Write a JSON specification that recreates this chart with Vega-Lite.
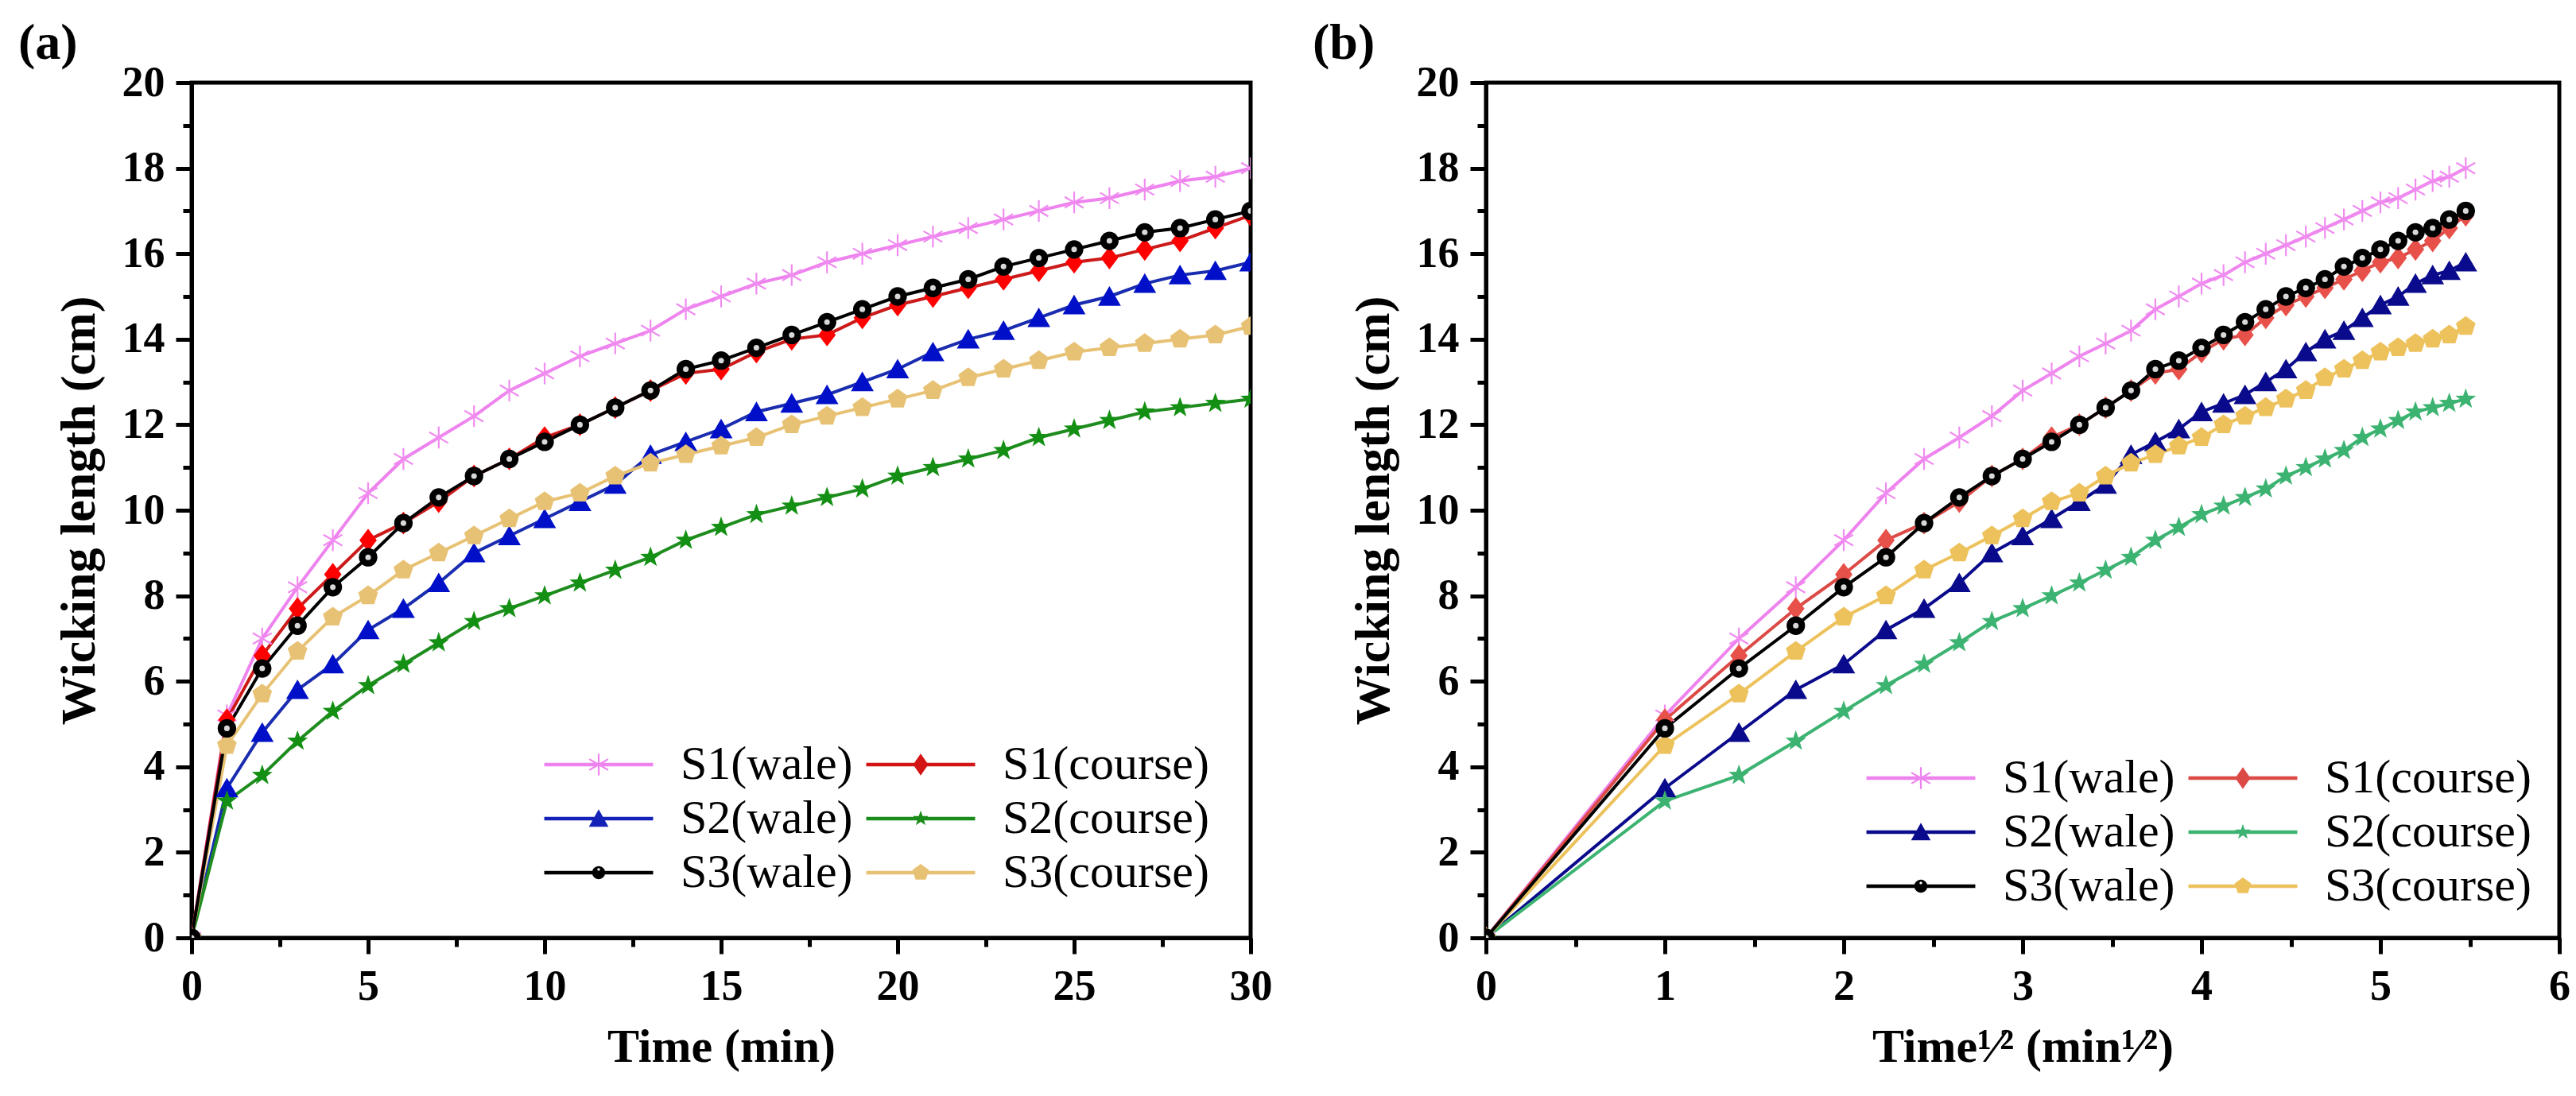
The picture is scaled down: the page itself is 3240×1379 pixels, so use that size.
{
  "$schema": "https://vega.github.io/schema/vega-lite/v6.json",
  "padding": {"left": 20, "top": 20, "right": 5, "bottom": 5},
  "spacing": 45,
  "datasets": {
    "d": [
      {"s":"S1(wale)","t":0,"r":0,"v":0},{"s":"S1(wale)","t":1,"r":1,"v":5.2},{"s":"S1(wale)","t":2,"r":1.414,"v":7.0},{"s":"S1(wale)","t":3,"r":1.732,"v":8.2},{"s":"S1(wale)","t":4,"r":2,"v":9.3},{"s":"S1(wale)","t":5,"r":2.236,"v":10.4},{"s":"S1(wale)","t":6,"r":2.449,"v":11.2},{"s":"S1(wale)","t":7,"r":2.646,"v":11.7},{"s":"S1(wale)","t":8,"r":2.828,"v":12.2},{"s":"S1(wale)","t":9,"r":3,"v":12.8},{"s":"S1(wale)","t":10,"r":3.162,"v":13.2},{"s":"S1(wale)","t":11,"r":3.317,"v":13.6},{"s":"S1(wale)","t":12,"r":3.464,"v":13.9},{"s":"S1(wale)","t":13,"r":3.606,"v":14.2},{"s":"S1(wale)","t":14,"r":3.742,"v":14.7},{"s":"S1(wale)","t":15,"r":3.873,"v":15.0},{"s":"S1(wale)","t":16,"r":4,"v":15.3},{"s":"S1(wale)","t":17,"r":4.123,"v":15.5},{"s":"S1(wale)","t":18,"r":4.243,"v":15.8},{"s":"S1(wale)","t":19,"r":4.359,"v":16.0},{"s":"S1(wale)","t":20,"r":4.472,"v":16.2},{"s":"S1(wale)","t":21,"r":4.583,"v":16.4},{"s":"S1(wale)","t":22,"r":4.69,"v":16.6},{"s":"S1(wale)","t":23,"r":4.796,"v":16.8},{"s":"S1(wale)","t":24,"r":4.899,"v":17.0},{"s":"S1(wale)","t":25,"r":5,"v":17.2},{"s":"S1(wale)","t":26,"r":5.099,"v":17.3},{"s":"S1(wale)","t":27,"r":5.196,"v":17.5},{"s":"S1(wale)","t":28,"r":5.292,"v":17.7},{"s":"S1(wale)","t":29,"r":5.385,"v":17.8},{"s":"S1(wale)","t":30,"r":5.477,"v":18.0},
      {"s":"S1(course)","t":0,"r":0,"v":0},{"s":"S1(course)","t":1,"r":1,"v":5.1},{"s":"S1(course)","t":2,"r":1.414,"v":6.6},{"s":"S1(course)","t":3,"r":1.732,"v":7.7},{"s":"S1(course)","t":4,"r":2,"v":8.5},{"s":"S1(course)","t":5,"r":2.236,"v":9.3},{"s":"S1(course)","t":6,"r":2.449,"v":9.7},{"s":"S1(course)","t":7,"r":2.646,"v":10.2},{"s":"S1(course)","t":8,"r":2.828,"v":10.8},{"s":"S1(course)","t":9,"r":3,"v":11.2},{"s":"S1(course)","t":10,"r":3.162,"v":11.7},{"s":"S1(course)","t":11,"r":3.317,"v":12.0},{"s":"S1(course)","t":12,"r":3.464,"v":12.4},{"s":"S1(course)","t":13,"r":3.606,"v":12.8},{"s":"S1(course)","t":14,"r":3.742,"v":13.2},{"s":"S1(course)","t":15,"r":3.873,"v":13.3},{"s":"S1(course)","t":16,"r":4,"v":13.7},{"s":"S1(course)","t":17,"r":4.123,"v":14.0},{"s":"S1(course)","t":18,"r":4.243,"v":14.1},{"s":"S1(course)","t":19,"r":4.359,"v":14.5},{"s":"S1(course)","t":20,"r":4.472,"v":14.8},{"s":"S1(course)","t":21,"r":4.583,"v":15.0},{"s":"S1(course)","t":22,"r":4.69,"v":15.2},{"s":"S1(course)","t":23,"r":4.796,"v":15.4},{"s":"S1(course)","t":24,"r":4.899,"v":15.6},{"s":"S1(course)","t":25,"r":5,"v":15.8},{"s":"S1(course)","t":26,"r":5.099,"v":15.9},{"s":"S1(course)","t":27,"r":5.196,"v":16.1},{"s":"S1(course)","t":28,"r":5.292,"v":16.3},{"s":"S1(course)","t":29,"r":5.385,"v":16.6},{"s":"S1(course)","t":30,"r":5.477,"v":16.9},
      {"s":"S2(wale)","t":0,"r":0,"v":0},{"s":"S2(wale)","t":1,"r":1,"v":3.5},{"s":"S2(wale)","t":2,"r":1.414,"v":4.8},{"s":"S2(wale)","t":3,"r":1.732,"v":5.8},{"s":"S2(wale)","t":4,"r":2,"v":6.4},{"s":"S2(wale)","t":5,"r":2.236,"v":7.2},{"s":"S2(wale)","t":6,"r":2.449,"v":7.7},{"s":"S2(wale)","t":7,"r":2.646,"v":8.3},{"s":"S2(wale)","t":8,"r":2.828,"v":9.0},{"s":"S2(wale)","t":9,"r":3,"v":9.4},{"s":"S2(wale)","t":10,"r":3.162,"v":9.8},{"s":"S2(wale)","t":11,"r":3.317,"v":10.2},{"s":"S2(wale)","t":12,"r":3.464,"v":10.6},{"s":"S2(wale)","t":13,"r":3.606,"v":11.3},{"s":"S2(wale)","t":14,"r":3.742,"v":11.6},{"s":"S2(wale)","t":15,"r":3.873,"v":11.9},{"s":"S2(wale)","t":16,"r":4,"v":12.3},{"s":"S2(wale)","t":17,"r":4.123,"v":12.5},{"s":"S2(wale)","t":18,"r":4.243,"v":12.7},{"s":"S2(wale)","t":19,"r":4.359,"v":13.0},{"s":"S2(wale)","t":20,"r":4.472,"v":13.3},{"s":"S2(wale)","t":21,"r":4.583,"v":13.7},{"s":"S2(wale)","t":22,"r":4.69,"v":14.0},{"s":"S2(wale)","t":23,"r":4.796,"v":14.2},{"s":"S2(wale)","t":24,"r":4.899,"v":14.5},{"s":"S2(wale)","t":25,"r":5,"v":14.8},{"s":"S2(wale)","t":26,"r":5.099,"v":15.0},{"s":"S2(wale)","t":27,"r":5.196,"v":15.3},{"s":"S2(wale)","t":28,"r":5.292,"v":15.5},{"s":"S2(wale)","t":29,"r":5.385,"v":15.6},{"s":"S2(wale)","t":30,"r":5.477,"v":15.8},
      {"s":"S2(course)","t":0,"r":0,"v":0},{"s":"S2(course)","t":1,"r":1,"v":3.2},{"s":"S2(course)","t":2,"r":1.414,"v":3.8},{"s":"S2(course)","t":3,"r":1.732,"v":4.6},{"s":"S2(course)","t":4,"r":2,"v":5.3},{"s":"S2(course)","t":5,"r":2.236,"v":5.9},{"s":"S2(course)","t":6,"r":2.449,"v":6.4},{"s":"S2(course)","t":7,"r":2.646,"v":6.9},{"s":"S2(course)","t":8,"r":2.828,"v":7.4},{"s":"S2(course)","t":9,"r":3,"v":7.7},{"s":"S2(course)","t":10,"r":3.162,"v":8.0},{"s":"S2(course)","t":11,"r":3.317,"v":8.3},{"s":"S2(course)","t":12,"r":3.464,"v":8.6},{"s":"S2(course)","t":13,"r":3.606,"v":8.9},{"s":"S2(course)","t":14,"r":3.742,"v":9.3},{"s":"S2(course)","t":15,"r":3.873,"v":9.6},{"s":"S2(course)","t":16,"r":4,"v":9.9},{"s":"S2(course)","t":17,"r":4.123,"v":10.1},{"s":"S2(course)","t":18,"r":4.243,"v":10.3},{"s":"S2(course)","t":19,"r":4.359,"v":10.5},{"s":"S2(course)","t":20,"r":4.472,"v":10.8},{"s":"S2(course)","t":21,"r":4.583,"v":11.0},{"s":"S2(course)","t":22,"r":4.69,"v":11.2},{"s":"S2(course)","t":23,"r":4.796,"v":11.4},{"s":"S2(course)","t":24,"r":4.899,"v":11.7},{"s":"S2(course)","t":25,"r":5,"v":11.9},{"s":"S2(course)","t":26,"r":5.099,"v":12.1},{"s":"S2(course)","t":27,"r":5.196,"v":12.3},{"s":"S2(course)","t":28,"r":5.292,"v":12.4},{"s":"S2(course)","t":29,"r":5.385,"v":12.5},{"s":"S2(course)","t":30,"r":5.477,"v":12.6},
      {"s":"S3(course)","t":0,"r":0,"v":0},{"s":"S3(course)","t":1,"r":1,"v":4.5},{"s":"S3(course)","t":2,"r":1.414,"v":5.7},{"s":"S3(course)","t":3,"r":1.732,"v":6.7},{"s":"S3(course)","t":4,"r":2,"v":7.5},{"s":"S3(course)","t":5,"r":2.236,"v":8.0},{"s":"S3(course)","t":6,"r":2.449,"v":8.6},{"s":"S3(course)","t":7,"r":2.646,"v":9.0},{"s":"S3(course)","t":8,"r":2.828,"v":9.4},{"s":"S3(course)","t":9,"r":3,"v":9.8},{"s":"S3(course)","t":10,"r":3.162,"v":10.2},{"s":"S3(course)","t":11,"r":3.317,"v":10.4},{"s":"S3(course)","t":12,"r":3.464,"v":10.8},{"s":"S3(course)","t":13,"r":3.606,"v":11.1},{"s":"S3(course)","t":14,"r":3.742,"v":11.3},{"s":"S3(course)","t":15,"r":3.873,"v":11.5},{"s":"S3(course)","t":16,"r":4,"v":11.7},{"s":"S3(course)","t":17,"r":4.123,"v":12.0},{"s":"S3(course)","t":18,"r":4.243,"v":12.2},{"s":"S3(course)","t":19,"r":4.359,"v":12.4},{"s":"S3(course)","t":20,"r":4.472,"v":12.6},{"s":"S3(course)","t":21,"r":4.583,"v":12.8},{"s":"S3(course)","t":22,"r":4.69,"v":13.1},{"s":"S3(course)","t":23,"r":4.796,"v":13.3},{"s":"S3(course)","t":24,"r":4.899,"v":13.5},{"s":"S3(course)","t":25,"r":5,"v":13.7},{"s":"S3(course)","t":26,"r":5.099,"v":13.8},{"s":"S3(course)","t":27,"r":5.196,"v":13.9},{"s":"S3(course)","t":28,"r":5.292,"v":14.0},{"s":"S3(course)","t":29,"r":5.385,"v":14.1},{"s":"S3(course)","t":30,"r":5.477,"v":14.3},
      {"s":"S3(wale)","t":0,"r":0,"v":0},{"s":"S3(wale)","t":1,"r":1,"v":4.9},{"s":"S3(wale)","t":2,"r":1.414,"v":6.3},{"s":"S3(wale)","t":3,"r":1.732,"v":7.3},{"s":"S3(wale)","t":4,"r":2,"v":8.2},{"s":"S3(wale)","t":5,"r":2.236,"v":8.9},{"s":"S3(wale)","t":6,"r":2.449,"v":9.7},{"s":"S3(wale)","t":7,"r":2.646,"v":10.3},{"s":"S3(wale)","t":8,"r":2.828,"v":10.8},{"s":"S3(wale)","t":9,"r":3,"v":11.2},{"s":"S3(wale)","t":10,"r":3.162,"v":11.6},{"s":"S3(wale)","t":11,"r":3.317,"v":12.0},{"s":"S3(wale)","t":12,"r":3.464,"v":12.4},{"s":"S3(wale)","t":13,"r":3.606,"v":12.8},{"s":"S3(wale)","t":14,"r":3.742,"v":13.3},{"s":"S3(wale)","t":15,"r":3.873,"v":13.5},{"s":"S3(wale)","t":16,"r":4,"v":13.8},{"s":"S3(wale)","t":17,"r":4.123,"v":14.1},{"s":"S3(wale)","t":18,"r":4.243,"v":14.4},{"s":"S3(wale)","t":19,"r":4.359,"v":14.7},{"s":"S3(wale)","t":20,"r":4.472,"v":15.0},{"s":"S3(wale)","t":21,"r":4.583,"v":15.2},{"s":"S3(wale)","t":22,"r":4.69,"v":15.4},{"s":"S3(wale)","t":23,"r":4.796,"v":15.7},{"s":"S3(wale)","t":24,"r":4.899,"v":15.9},{"s":"S3(wale)","t":25,"r":5,"v":16.1},{"s":"S3(wale)","t":26,"r":5.099,"v":16.3},{"s":"S3(wale)","t":27,"r":5.196,"v":16.5},{"s":"S3(wale)","t":28,"r":5.292,"v":16.6},{"s":"S3(wale)","t":29,"r":5.385,"v":16.8},{"s":"S3(wale)","t":30,"r":5.477,"v":17.0}
    ]
  },
  "hconcat": [
    {
      "width": 1332,
      "height": 1076,
      "title": {"text": "(a)", "anchor": "start", "frame": "bounds", "dx": -45},
      "data": {"name": "d"},
      "layer": [
        {
          "mark": {"type": "line", "strokeWidth": 4, "clip": true},
          "encoding": {
            "x": {"field": "t", "type": "quantitative", "scale": {"domain": [0, 30], "nice": false, "zero": false},
                  "axis": {"title": "Time (min)", "values": [0, 5, 10, 15, 20, 25, 30]}},
            "y": {"field": "v", "type": "quantitative", "scale": {"domain": [0, 20], "nice": false},
                  "axis": {"title": "Wicking length (cm)", "values": [0, 2, 4, 6, 8, 10, 12, 14, 16, 18, 20]}},
            "color": {"field": "s", "type": "nominal", "legend": null,
                      "scale": {"domain": ["S1(wale)", "S1(course)", "S2(wale)", "S2(course)", "S3(wale)", "S3(course)"],
                                "range": ["#EE82EE", "#CC1A1A", "#1A2DB0", "#1E8C1E", "#000000", "#E8C274"]}}
          }
        },
        {
          "mark": {"type": "point", "filled": true, "size": 750, "opacity": 1, "clip": true},
          "encoding": {
            "x": {"field": "t", "type": "quantitative", "scale": {"domain": [0, 30], "nice": false, "zero": false},
                  "axis": {"orient": "bottom", "values": [2.5, 7.5, 12.5, 17.5, 22.5, 27.5], "labels": false, "domain": false, "tickSize": 11, "title": null}},
            "y": {"field": "v", "type": "quantitative", "scale": {"domain": [0, 20], "nice": false},
                  "axis": {"orient": "left", "values": [1, 3, 5, 7, 9, 11, 13, 15, 17, 19], "labels": false, "domain": false, "tickSize": 11, "title": null}},
            "color": {"field": "s", "type": "nominal", "legend": null,
                      "scale": {"domain": ["S1(wale)", "S1(course)", "S2(wale)", "S2(course)", "S3(wale)", "S3(course)"],
                                "range": ["#F08CF0", "#FF0000", "#0010C8", "#139013", "#000000", "#E8C274"]}},
            "shape": {"field": "s", "type": "nominal", "legend": null,
                      "scale": {"domain": ["S1(wale)", "S1(course)", "S2(wale)", "S2(course)", "S3(wale)", "S3(course)"],
                                "range": [
                                  "M-0.08,-1L0.08,-1L0.08,1L-0.08,1ZM-0.906,-0.431L-0.826,-0.569L0.906,0.431L0.826,0.569ZM-0.826,0.569L-0.906,0.431L0.826,-0.569L0.906,-0.431Z",
                                  "M0,-1.05L0.8,0L0,1.05L-0.8,0Z",
                                  "M0,-0.95L1.05,0.85L-1.05,0.85Z",
                                  "M0,-1L0.235,-0.324L0.951,-0.309L0.38,0.124L0.588,0.809L0,0.4L-0.588,0.809L-0.38,0.124L-0.951,-0.309L-0.235,-0.324Z",
                                  "M-0.85,0A0.85,0.85,0,1,1,0.85,0A0.85,0.85,0,1,1,-0.85,0Z",
                                  "M0,-0.95L0.904,-0.294L0.559,0.769L-0.559,0.769L-0.904,-0.294Z"
                                ]}}
          }
        },
        {
          "transform": [{"filter": "datum.s == 'S3(wale)'"}],
          "mark": {"type": "point", "filled": true, "size": 50, "shape": "circle", "color": "#d8d8d8", "opacity": 1, "clip": true},
          "encoding": {
            "x": {"field": "t", "type": "quantitative", "axis": null},
            "y": {"field": "v", "type": "quantitative", "axis": null}
          }
        },
        {
          "transform": [{"filter": "datum.t < 0"}],
          "mark": {"type": "point", "filled": true, "size": 750, "opacity": 1},
          "encoding": {
            "x": {"field": "t", "type": "quantitative", "axis": null},
            "y": {"field": "v", "type": "quantitative", "axis": null},
            "color": {"field": "s", "type": "nominal", "legend": {"title": null, "offset": 52, "labelFont": "Liberation Serif"},
                      "scale": {"domain": ["S1(wale)", "S1(course)", "S2(wale)", "S2(course)", "S3(wale)", "S3(course)"],
                                "range": ["#EE82EE", "#D41515", "#1422B8", "#1A8C1A", "#000000", "#E8C274"]}},
            "shape": {"field": "s", "type": "nominal", "legend": {"title": null},
                      "scale": {"domain": ["S1(wale)", "S1(course)", "S2(wale)", "S2(course)", "S3(wale)", "S3(course)"],
                                "range": [
                                  "M-5,-0.17L5,-0.17L5,0.17L-5,0.17ZM-0.08,-1L0.08,-1L0.08,1L-0.08,1ZM-0.906,-0.431L-0.826,-0.569L0.906,0.431L0.826,0.569ZM-0.826,0.569L-0.906,0.431L0.826,-0.569L0.906,-0.431Z",
                                  "M-5,-0.17L5,-0.17L5,0.17L-5,0.17ZM0,-1L0.7,0L0,1L-0.7,0Z",
                                  "M-5,-0.17L5,-0.17L5,0.17L-5,0.17ZM0,-0.85L0.9,0.75L-0.9,0.75Z",
                                  "M-5,-0.17L5,-0.17L5,0.17L-5,0.17ZM0,-0.75L0.176,-0.243L0.713,-0.232L0.285,0.093L0.441,0.607L0,0.3L-0.441,0.607L-0.285,0.093L-0.713,-0.232L-0.176,-0.243Z",
                                  "M-5,-0.17L5,-0.17L5,0.17L-5,0.17ZM-0.6,0A0.6,0.6,0,1,1,0.6,0A0.6,0.6,0,1,1,-0.6,0ZM-0.12,-0.3A0.12,0.12,0,1,0,0.12,-0.3A0.12,0.12,0,1,0,-0.12,-0.3Z",
                                  "M-5,-0.17L5,-0.17L5,0.17L-5,0.17ZM0,-0.8L0.761,-0.247L0.47,0.647L-0.47,0.647L-0.761,-0.247Z"
                                ]}}
          }
        }
      ],
      "resolve": {"scale": {"color": "independent", "shape": "independent"}, "axis": {"x": "independent", "y": "independent"}}
    },
    {
      "width": 1350,
      "height": 1076,
      "title": {"text": "(b)", "anchor": "start", "frame": "bounds", "dx": -45},
      "data": {"name": "d"},
      "layer": [
        {
          "mark": {"type": "line", "strokeWidth": 4, "clip": true},
          "encoding": {
            "x": {"field": "r", "type": "quantitative", "scale": {"domain": [0, 6], "nice": false, "zero": false},
                  "axis": {"title": "Time¹⁄² (min¹⁄²)", "values": [0, 1, 2, 3, 4, 5, 6]}},
            "y": {"field": "v", "type": "quantitative", "scale": {"domain": [0, 20], "nice": false},
                  "axis": {"title": "Wicking length (cm)", "values": [0, 2, 4, 6, 8, 10, 12, 14, 16, 18, 20]}},
            "color": {"field": "s", "type": "nominal", "legend": null,
                      "scale": {"domain": ["S1(wale)", "S1(course)", "S2(wale)", "S2(course)", "S3(wale)", "S3(course)"],
                                "range": ["#EE82EE", "#DC4A46", "#0A0A8C", "#3CB371", "#000000", "#EDC25C"]}}
          }
        },
        {
          "mark": {"type": "point", "filled": true, "size": 750, "opacity": 1, "clip": true},
          "encoding": {
            "x": {"field": "r", "type": "quantitative", "scale": {"domain": [0, 6], "nice": false, "zero": false},
                  "axis": {"orient": "bottom", "values": [0.5, 1.5, 2.5, 3.5, 4.5, 5.5], "labels": false, "domain": false, "tickSize": 11, "title": null}},
            "y": {"field": "v", "type": "quantitative", "scale": {"domain": [0, 20], "nice": false},
                  "axis": {"orient": "left", "values": [1, 3, 5, 7, 9, 11, 13, 15, 17, 19], "labels": false, "domain": false, "tickSize": 11, "title": null}},
            "color": {"field": "s", "type": "nominal", "legend": null,
                      "scale": {"domain": ["S1(wale)", "S1(course)", "S2(wale)", "S2(course)", "S3(wale)", "S3(course)"],
                                "range": ["#F08CF0", "#E8504A", "#0A0A8C", "#3CB371", "#000000", "#EDC25C"]}},
            "shape": {"field": "s", "type": "nominal", "legend": null,
                      "scale": {"domain": ["S1(wale)", "S1(course)", "S2(wale)", "S2(course)", "S3(wale)", "S3(course)"],
                                "range": [
                                  "M-0.08,-1L0.08,-1L0.08,1L-0.08,1ZM-0.906,-0.431L-0.826,-0.569L0.906,0.431L0.826,0.569ZM-0.826,0.569L-0.906,0.431L0.826,-0.569L0.906,-0.431Z",
                                  "M0,-1.05L0.8,0L0,1.05L-0.8,0Z",
                                  "M0,-0.95L1.05,0.85L-1.05,0.85Z",
                                  "M0,-1L0.235,-0.324L0.951,-0.309L0.38,0.124L0.588,0.809L0,0.4L-0.588,0.809L-0.38,0.124L-0.951,-0.309L-0.235,-0.324Z",
                                  "M-0.85,0A0.85,0.85,0,1,1,0.85,0A0.85,0.85,0,1,1,-0.85,0Z",
                                  "M0,-0.95L0.904,-0.294L0.559,0.769L-0.559,0.769L-0.904,-0.294Z"
                                ]}}
          }
        },
        {
          "transform": [{"filter": "datum.s == 'S3(wale)'"}],
          "mark": {"type": "point", "filled": true, "size": 50, "shape": "circle", "color": "#d8d8d8", "opacity": 1, "clip": true},
          "encoding": {
            "x": {"field": "r", "type": "quantitative", "axis": null},
            "y": {"field": "v", "type": "quantitative", "axis": null}
          }
        },
        {
          "transform": [{"filter": "datum.t < 0"}],
          "mark": {"type": "point", "filled": true, "size": 750, "opacity": 1},
          "encoding": {
            "x": {"field": "r", "type": "quantitative", "axis": null},
            "y": {"field": "v", "type": "quantitative", "axis": null},
            "color": {"field": "s", "type": "nominal", "legend": {"title": null, "offset": 35, "labelFont": "Liberation Serif"},
                      "scale": {"domain": ["S1(wale)", "S1(course)", "S2(wale)", "S2(course)", "S3(wale)", "S3(course)"],
                                "range": ["#EE82EE", "#DC4A46", "#0A0A8C", "#3CB371", "#000000", "#EDC25C"]}},
            "shape": {"field": "s", "type": "nominal", "legend": {"title": null},
                      "scale": {"domain": ["S1(wale)", "S1(course)", "S2(wale)", "S2(course)", "S3(wale)", "S3(course)"],
                                "range": [
                                  "M-5,-0.17L5,-0.17L5,0.17L-5,0.17ZM-0.08,-1L0.08,-1L0.08,1L-0.08,1ZM-0.906,-0.431L-0.826,-0.569L0.906,0.431L0.826,0.569ZM-0.826,0.569L-0.906,0.431L0.826,-0.569L0.906,-0.431Z",
                                  "M-5,-0.17L5,-0.17L5,0.17L-5,0.17ZM0,-1L0.7,0L0,1L-0.7,0Z",
                                  "M-5,-0.17L5,-0.17L5,0.17L-5,0.17ZM0,-0.85L0.9,0.75L-0.9,0.75Z",
                                  "M-5,-0.17L5,-0.17L5,0.17L-5,0.17ZM0,-0.75L0.176,-0.243L0.713,-0.232L0.285,0.093L0.441,0.607L0,0.3L-0.441,0.607L-0.285,0.093L-0.713,-0.232L-0.176,-0.243Z",
                                  "M-5,-0.17L5,-0.17L5,0.17L-5,0.17ZM-0.6,0A0.6,0.6,0,1,1,0.6,0A0.6,0.6,0,1,1,-0.6,0ZM-0.12,-0.3A0.12,0.12,0,1,0,0.12,-0.3A0.12,0.12,0,1,0,-0.12,-0.3Z",
                                  "M-5,-0.17L5,-0.17L5,0.17L-5,0.17ZM0,-0.8L0.761,-0.247L0.47,0.647L-0.47,0.647L-0.761,-0.247Z"
                                ]}}
          }
        }
      ],
      "resolve": {"scale": {"color": "independent", "shape": "independent"}, "axis": {"x": "independent", "y": "independent"}}
    }
  ],
  "resolve": {"scale": {"color": "independent", "shape": "independent"}},
  "config": {
    "font": "Liberation Serif",
    "background": "white",
    "view": {"stroke": "black", "strokeWidth": 5},
    "title": {"font": "Liberation Serif", "fontSize": 64, "fontWeight": "bold", "color": "black", "offset": -10},
    "axis": {
      "grid": false,
      "domainColor": "black", "domainWidth": 5,
      "tickColor": "black", "tickWidth": 5, "tickSize": 20,
      "labelFont": "Liberation Serif", "labelFontSize": 54, "labelFontWeight": "bold", "labelColor": "black",
      "labelPadding": 14, "labelFlush": false, "labelOverlap": false,
      "titleFont": "Liberation Serif", "titleFontSize": 60, "titleFontWeight": "bold", "titleColor": "black"
    },
    "axisX": {"titlePadding": 20},
    "axisY": {"titlePadding": 22, "titleFontSize": 62},
    "legend": {
      "orient": "bottom-right", "columns": 2, "direction": "horizontal", "padding": 0,
      "labelFont": "Liberation Serif", "labelFontSize": 60, "labelColor": "black", "labelLimit": 1000,
      "symbolSize": 750, "symbolStrokeWidth": 0, "symbolOpacity": 1,
      "labelOffset": 73, "columnPadding": 16, "rowPadding": 8
    }
  }
}
